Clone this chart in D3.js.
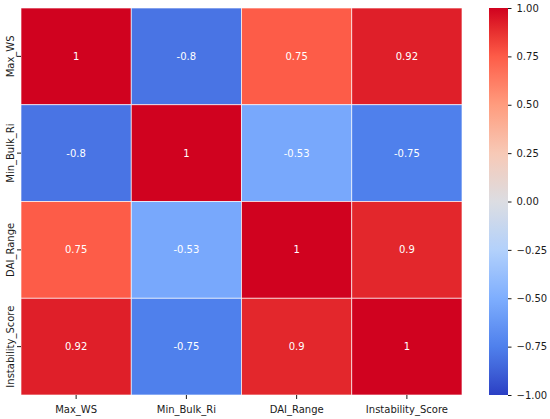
<!DOCTYPE html>
<html lang="en">
<head>
  <meta charset="UTF-8" />
  <title>Correlation Heatmap</title>
  <script src="https://d3js.org/d3.v7.min.js"></script>
  <style>
    html, body { margin: 0; background: #fff; }
    svg { display: block; }
    .tick line { stroke: #1a1a1a; }
  </style>
</head>
<body>
  <svg id="chart" width="550" height="419"></svg>
  <script>
    const variables = ['Max_WS', 'Min_Bulk_Ri', 'DAI_Range', 'Instability_Score'];
    const corrRows = [
      [1, -0.8, 0.75, 0.92],
      [-0.8, 1, -0.53, -0.75],
      [0.75, -0.53, 1, 0.9],
      [0.92, -0.75, 0.9, 1]
    ];
    const colorbarTicks = [-1, -0.75, -0.5, -0.25, 0, 0.25, 0.5, 0.75, 1];

    // coolwarm-like stops as they appear in the picture (value -> colour)
    const stopValues = [-1, -0.875, -0.75, -0.5, -0.25, 0, 0.25, 0.5, 0.75, 0.875, 1];
    const stopColors = ['#2b3fc4', '#3f62d8', '#4f80ec', '#7eaefe', '#b3d1fb', '#dcdde2',
                        '#f7c9b6', '#ff9c7e', '#fd5c48', '#e8302f', '#d0021f'];

    const FONT = '"DejaVu Sans", sans-serif';
    const svg = d3.select('#chart');
    const hm = { left: 21, top: 8, width: 441, height: 387 };
    const cb = { left: 489, top: 8, width: 19, height: 387 };

    const color = d3.scaleLinear()
      .domain(stopValues)
      .range(stopColors)
      .interpolate(d3.interpolateRgb)
      .clamp(true);

    const x = d3.scaleBand().domain(variables).range([hm.left, hm.left + hm.width]);
    const y = d3.scaleBand().domain(variables).range([hm.top, hm.top + hm.height]);

    const cells = [];
    corrRows.forEach((row, i) => row.forEach((v, j) => {
      cells.push({ r: variables[i], c: variables[j], v });
    }));

    svg.append('g').selectAll('rect')
      .data(cells)
      .join('rect')
      .attr('x', d => x(d.c))
      .attr('y', d => y(d.r))
      .attr('width', x.bandwidth())
      .attr('height', y.bandwidth())
      .attr('fill', d => color(d.v))
      .attr('stroke', '#fff')
      .attr('stroke-opacity', 0.8)
      .attr('stroke-width', 0.8);

    svg.append('g').selectAll('text')
      .data(cells)
      .join('text')
      .attr('x', d => x(d.c) + x.bandwidth() / 2)
      .attr('y', d => y(d.r) + y.bandwidth() / 2)
      .attr('text-anchor', 'middle')
      .attr('dominant-baseline', 'central')
      .style('font-family', FONT)
      .style('font-size', '10px')
      .style('fill', '#fff')
      .text(d => String(d.v));

    const xAxis = svg.append('g')
      .attr('transform', `translate(0,${hm.top + hm.height})`)
      .call(d3.axisBottom(x).tickSize(4).tickPadding(6.5));
    xAxis.select('.domain').remove();

    const yAxis = svg.append('g')
      .attr('transform', `translate(${hm.left},0)`)
      .call(d3.axisLeft(y).tickSize(4).tickPadding(3.5));
    yAxis.select('.domain').remove();
    yAxis.selectAll('.tick text')
      .attr('x', 0).attr('dy', 0)
      .attr('text-anchor', 'middle')
      .attr('dominant-baseline', 'central')
      .attr('transform', 'translate(-11,0) rotate(-90)');

    // colorbar
    const defs = svg.append('defs');
    const grad = defs.append('linearGradient')
      .attr('id', 'cbar').attr('x1', 0).attr('y1', 1).attr('x2', 0).attr('y2', 0);
    d3.range(0, 1.0001, 1 / 40).forEach(t => {
      grad.append('stop')
        .attr('offset', t)
        .attr('stop-color', color(-1 + 2 * t));
    });
    svg.append('rect')
      .attr('x', cb.left).attr('y', cb.top)
      .attr('width', cb.width).attr('height', cb.height)
      .attr('fill', 'url(#cbar)');

    const cbScale = d3.scaleLinear().domain([-1, 1]).range([cb.top + cb.height, cb.top]);
    const cbAxis = svg.append('g')
      .attr('transform', `translate(${cb.left + cb.width},0)`)
      .call(d3.axisRight(cbScale).tickValues(colorbarTicks).tickFormat(d3.format('.2f')).tickSize(3.5).tickPadding(5));
    cbAxis.select('.domain').remove();

    svg.selectAll('.tick text')
      .style('font-family', FONT)
      .style('font-size', '10px')
      .style('fill', '#1a1a1a');
  </script>
</body>
</html>
